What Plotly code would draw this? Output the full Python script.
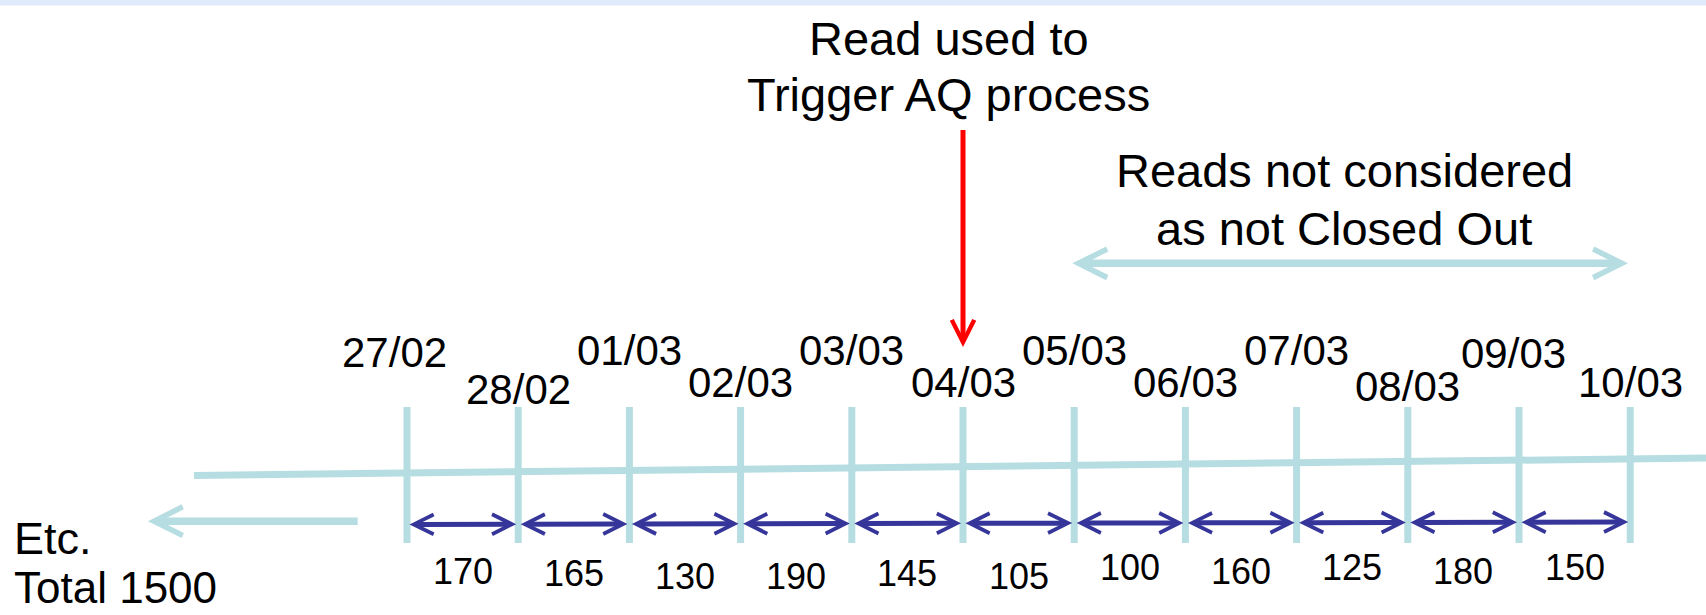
import plotly.graph_objects as go

# ---- data ----
dates = ["27/02", "28/02", "01/03", "02/03", "03/03", "04/03",
         "05/03", "06/03", "07/03", "08/03", "09/03", "10/03"]
reads = [170, 165, 130, 190, 145, 105, 100, 160, 125, 180, 150]
trigger_date = "04/03"
not_closed_from = "05/03"
not_closed_to = "10/03"
total_label = "Total 1500"

# ---- style / layout constants ----
TEAL = "#b6dde1"
NAVY = "#35359a"
RED = "#ff0000"
FONT = "Arial, Liberation Sans, sans-serif"
W, H = 1706, 615
X0_PX, STEP_PX = 407, 111.2           # pixel of first date tick and tick spacing
XMIN = -X0_PX / STEP_PX
XMAX = (W - X0_PX) / STEP_PX
YMAX = H / 1.088                       # vertical canvas units
date_label_y = [324, 358, 322, 352, 322, 352, 322, 352, 322, 355, 325, 352]
date_label_dx = [-0.11, 0, 0, 0, 0, 0, 0, 0, 0, 0, -0.05, 0]
read_label_y = [525, 527, 530, 530, 527, 530, 522, 525, 522, 525, 522]

fig = go.Figure()
shapes = []
ann = []

# top band
shapes.append(dict(type="rect", xref="paper", yref="y", x0=0, x1=1, y0=0, y1=5,
                   fillcolor="#dfeafb", line_width=0, layer="below"))

# main timeline (slightly slanted)
shapes.append(dict(type="line", xref="x", yref="y", x0=-1.915, y0=437, x1=XMAX, y1=421,
                   line=dict(color=TEAL, width=7)))

# ticks + date labels
for i, d in enumerate(dates):
    shapes.append(dict(type="line", xref="x", yref="y", x0=i, x1=i, y0=374, y1=499,
                       line=dict(color=TEAL, width=7)))
    ann.append(dict(x=i + date_label_dx[i], y=date_label_y[i], xref="x", yref="y", text=d,
                    showarrow=False, font=dict(size=42, color="black", family=FONT),
                    xanchor="center", yanchor="middle"))

# interval arrows + read values
for i, r in enumerate(reads):
    ya = 482 - 2 * i / (len(reads) - 1)
    yb = 482 - 2 * (i + 1) / (len(reads) - 1)
    ann.append(dict(x=i + 1, y=yb, ax=i, ay=ya, xref="x", yref="y", axref="x", ayref="y",
                    text="", showarrow=True, arrowside="end+start", arrowhead=5,
                    startarrowhead=5, arrowwidth=5, arrowsize=0.78, startarrowsize=0.78,
                    arrowcolor=NAVY, standoff=2, startstandoff=1))
    ann.append(dict(x=i + 0.5, y=read_label_y[i], xref="x", yref="y", text=str(r),
                    showarrow=False, font=dict(size=36, color="black", family=FONT),
                    xanchor="center", yanchor="middle"))

# left "Etc." arrow
ann.append(dict(x=-2.33, y=479, ax=-0.43, ay=479, xref="x", yref="y", axref="x", ayref="y",
                text="", showarrow=True, arrowhead=5, arrowwidth=7.5, arrowsize=0.75,
                arrowcolor=TEAL, standoff=0))
ann.append(dict(x=0.007, y=495, xref="paper", yref="y", text="Etc.", showarrow=False,
                font=dict(size=45, color="black", family=FONT), xanchor="left", yanchor="middle"))
ann.append(dict(x=0.007, y=540, xref="paper", yref="y", text=total_label, showarrow=False,
                font=dict(size=44, color="black", family=FONT), xanchor="left", yanchor="middle"))

# trigger read arrow
ti = dates.index(trigger_date)
ann.append(dict(x=ti, y=319, ax=ti, ay=118, xref="x", yref="y", axref="x", ayref="y",
                text="", showarrow=True, arrowhead=5, arrowwidth=5, arrowsize=0.88,
                arrowcolor=RED, standoff=0))
ann.append(dict(x=ti - 0.13, y=35, xref="x", yref="y", text="Read used to", showarrow=False,
                font=dict(size=47, color="black", family=FONT), xanchor="center", yanchor="middle"))
ann.append(dict(x=ti - 0.13, y=87, xref="x", yref="y", text="Trigger AQ process", showarrow=False,
                font=dict(size=47, color="black", family=FONT), xanchor="center", yanchor="middle"))

# not closed out range
a, b = dates.index(not_closed_from), dates.index(not_closed_to)
ann.append(dict(x=b - 0.02, y=242, ax=a - 0.03, ay=242, xref="x", yref="y", axref="x", ayref="y",
                text="", showarrow=True, arrowside="end+start", arrowhead=5, startarrowhead=5,
                arrowwidth=7.5, arrowsize=0.75, startarrowsize=0.75, arrowcolor=TEAL,
                standoff=0, startstandoff=0))
ann.append(dict(x=(a + b) / 2 - 0.07, y=157, xref="x", yref="y", text="Reads not considered",
                showarrow=False, font=dict(size=47, color="black", family=FONT),
                xanchor="center", yanchor="middle"))
ann.append(dict(x=(a + b) / 2 - 0.07, y=210, xref="x", yref="y", text="as not Closed Out",
                showarrow=False, font=dict(size=47, color="black", family=FONT),
                xanchor="center", yanchor="middle"))

fig.update_layout(
    width=W, height=H, margin=dict(l=0, r=0, t=0, b=0),
    plot_bgcolor="white", paper_bgcolor="white",
    xaxis=dict(range=[XMIN, XMAX], visible=False, fixedrange=True),
    yaxis=dict(range=[YMAX, 0], visible=False, fixedrange=True),
    shapes=shapes, annotations=ann, showlegend=False,
)
fig.write_html("out.html", config={"displayModeBar": False},
               post_script="document.body.style.margin='0';document.body.style.overflow='hidden';")
